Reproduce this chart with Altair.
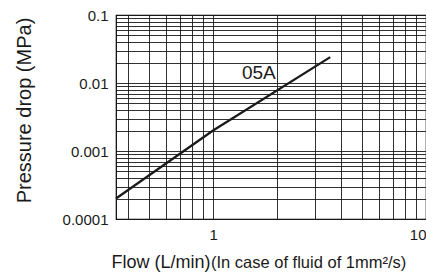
import json
import altair as alt
import pandas as pd

# ---- data ----
flow = [0.35, 1.0, 3.55]              # L/min
pressure_drop = [0.0002, 0.002, 0.024]  # MPa
series_name = ["05A"]
label_flow = [1.64]
label_dp = [0.0138]

x_grid = [0.4, 0.5, 0.6, 0.7, 0.8, 0.9, 1, 2, 3, 4, 5, 6, 7, 8, 9, 10]
x_tick_labels = [1, 10]
y_grid = [0.0001, 0.0002, 0.0003, 0.0004, 0.0005, 0.0006, 0.0007, 0.0008, 0.0009,
          0.001, 0.002, 0.003, 0.004, 0.005, 0.006, 0.007, 0.008, 0.009,
          0.01, 0.02, 0.03, 0.04, 0.05, 0.06, 0.07, 0.08, 0.09, 0.1]
y_tick_labels = [0.0001, 0.001, 0.01, 0.1]

x_title = "Flow (L/min)"
x_subtitle = ["(In case of fluid of 1mm²/s)"]
y_title = "Pressure drop (MPa)"

FONT = "Liberation Sans"
INK = "#1a1a1a"

line_df = pd.DataFrame({"flow": flow, "dp": pressure_drop})
lab_df = pd.DataFrame({"flow": label_flow, "dp": label_dp, "name": series_name})
sub_df = pd.DataFrame({"t": x_subtitle})

xscale = alt.Scale(type="log", domain=[0.35, 10], nice=False)
yscale = alt.Scale(type="log", domain=[0.0001, 0.1], nice=False)

xaxis = alt.Axis(
    values=x_grid,
    labelExpr=f"indexof({json.dumps(x_tick_labels)}, datum.value) >= 0 ? format(datum.value, '~g') : ''",
    labelOverlap=False, labelFlush=True,
    ticks=False, tickSize=0, labelPadding=8,
    labelFontSize=15, labelFont=FONT, labelColor=INK,
    grid=True, gridColor=INK, gridWidth=0.9, domain=False,
    title=x_title, titleFont=FONT, titleFontSize=18, titleFontWeight="normal",
    titleColor=INK, titleAlign="left", titleBaseline="alphabetic",
    titleX=-5, titleY=48,
)
yaxis = alt.Axis(
    values=y_grid,
    labelExpr=f"indexof({json.dumps(y_tick_labels)}, datum.value) >= 0 ? format(datum.value, '.4~f') : ''",
    labelOverlap=False, labelFlush=False,
    ticks=False, tickSize=0, labelPadding=8,
    labelFontSize=15, labelFont=FONT, labelColor=INK,
    grid=True, gridColor=INK, gridWidth=0.9, domain=False,
    title=y_title, titleFont=FONT, titleFontSize=20, titleFontWeight="normal",
    titleColor=INK, titleAngle=270, titleAlign="center", titleBaseline="alphabetic",
    titleX=-86, titleY=95,
)

line = alt.Chart(line_df).mark_line(color=INK, strokeWidth=2.3).encode(
    x=alt.X("flow:Q", scale=xscale, axis=xaxis),
    y=alt.Y("dp:Q", scale=yscale, axis=yaxis),
)

label = alt.Chart(lab_df).mark_text(
    font=FONT, fontSize=19, color=INK, align="center", baseline="middle"
).encode(
    x=alt.X("flow:Q", scale=xscale),
    y=alt.Y("dp:Q", scale=yscale),
    text="name:N",
)

subtitle = alt.Chart(sub_df).mark_text(
    font=FONT, fontSize=16.5, color=INK, align="left", baseline="alphabetic"
).encode(
    x=alt.value(95), y=alt.value(252.5), text="t:N"
)

chart = alt.layer(line, label, subtitle).properties(
    width=310, height=204,
    autosize=alt.AutoSizeParams(type="none"),
    padding={"left": 108, "top": 7, "right": 0, "bottom": 55},
    background="white",
).configure_view(stroke="#000", strokeWidth=1.2)

chart.save("out.html", embed_options={"renderer": "svg", "actions": False})
